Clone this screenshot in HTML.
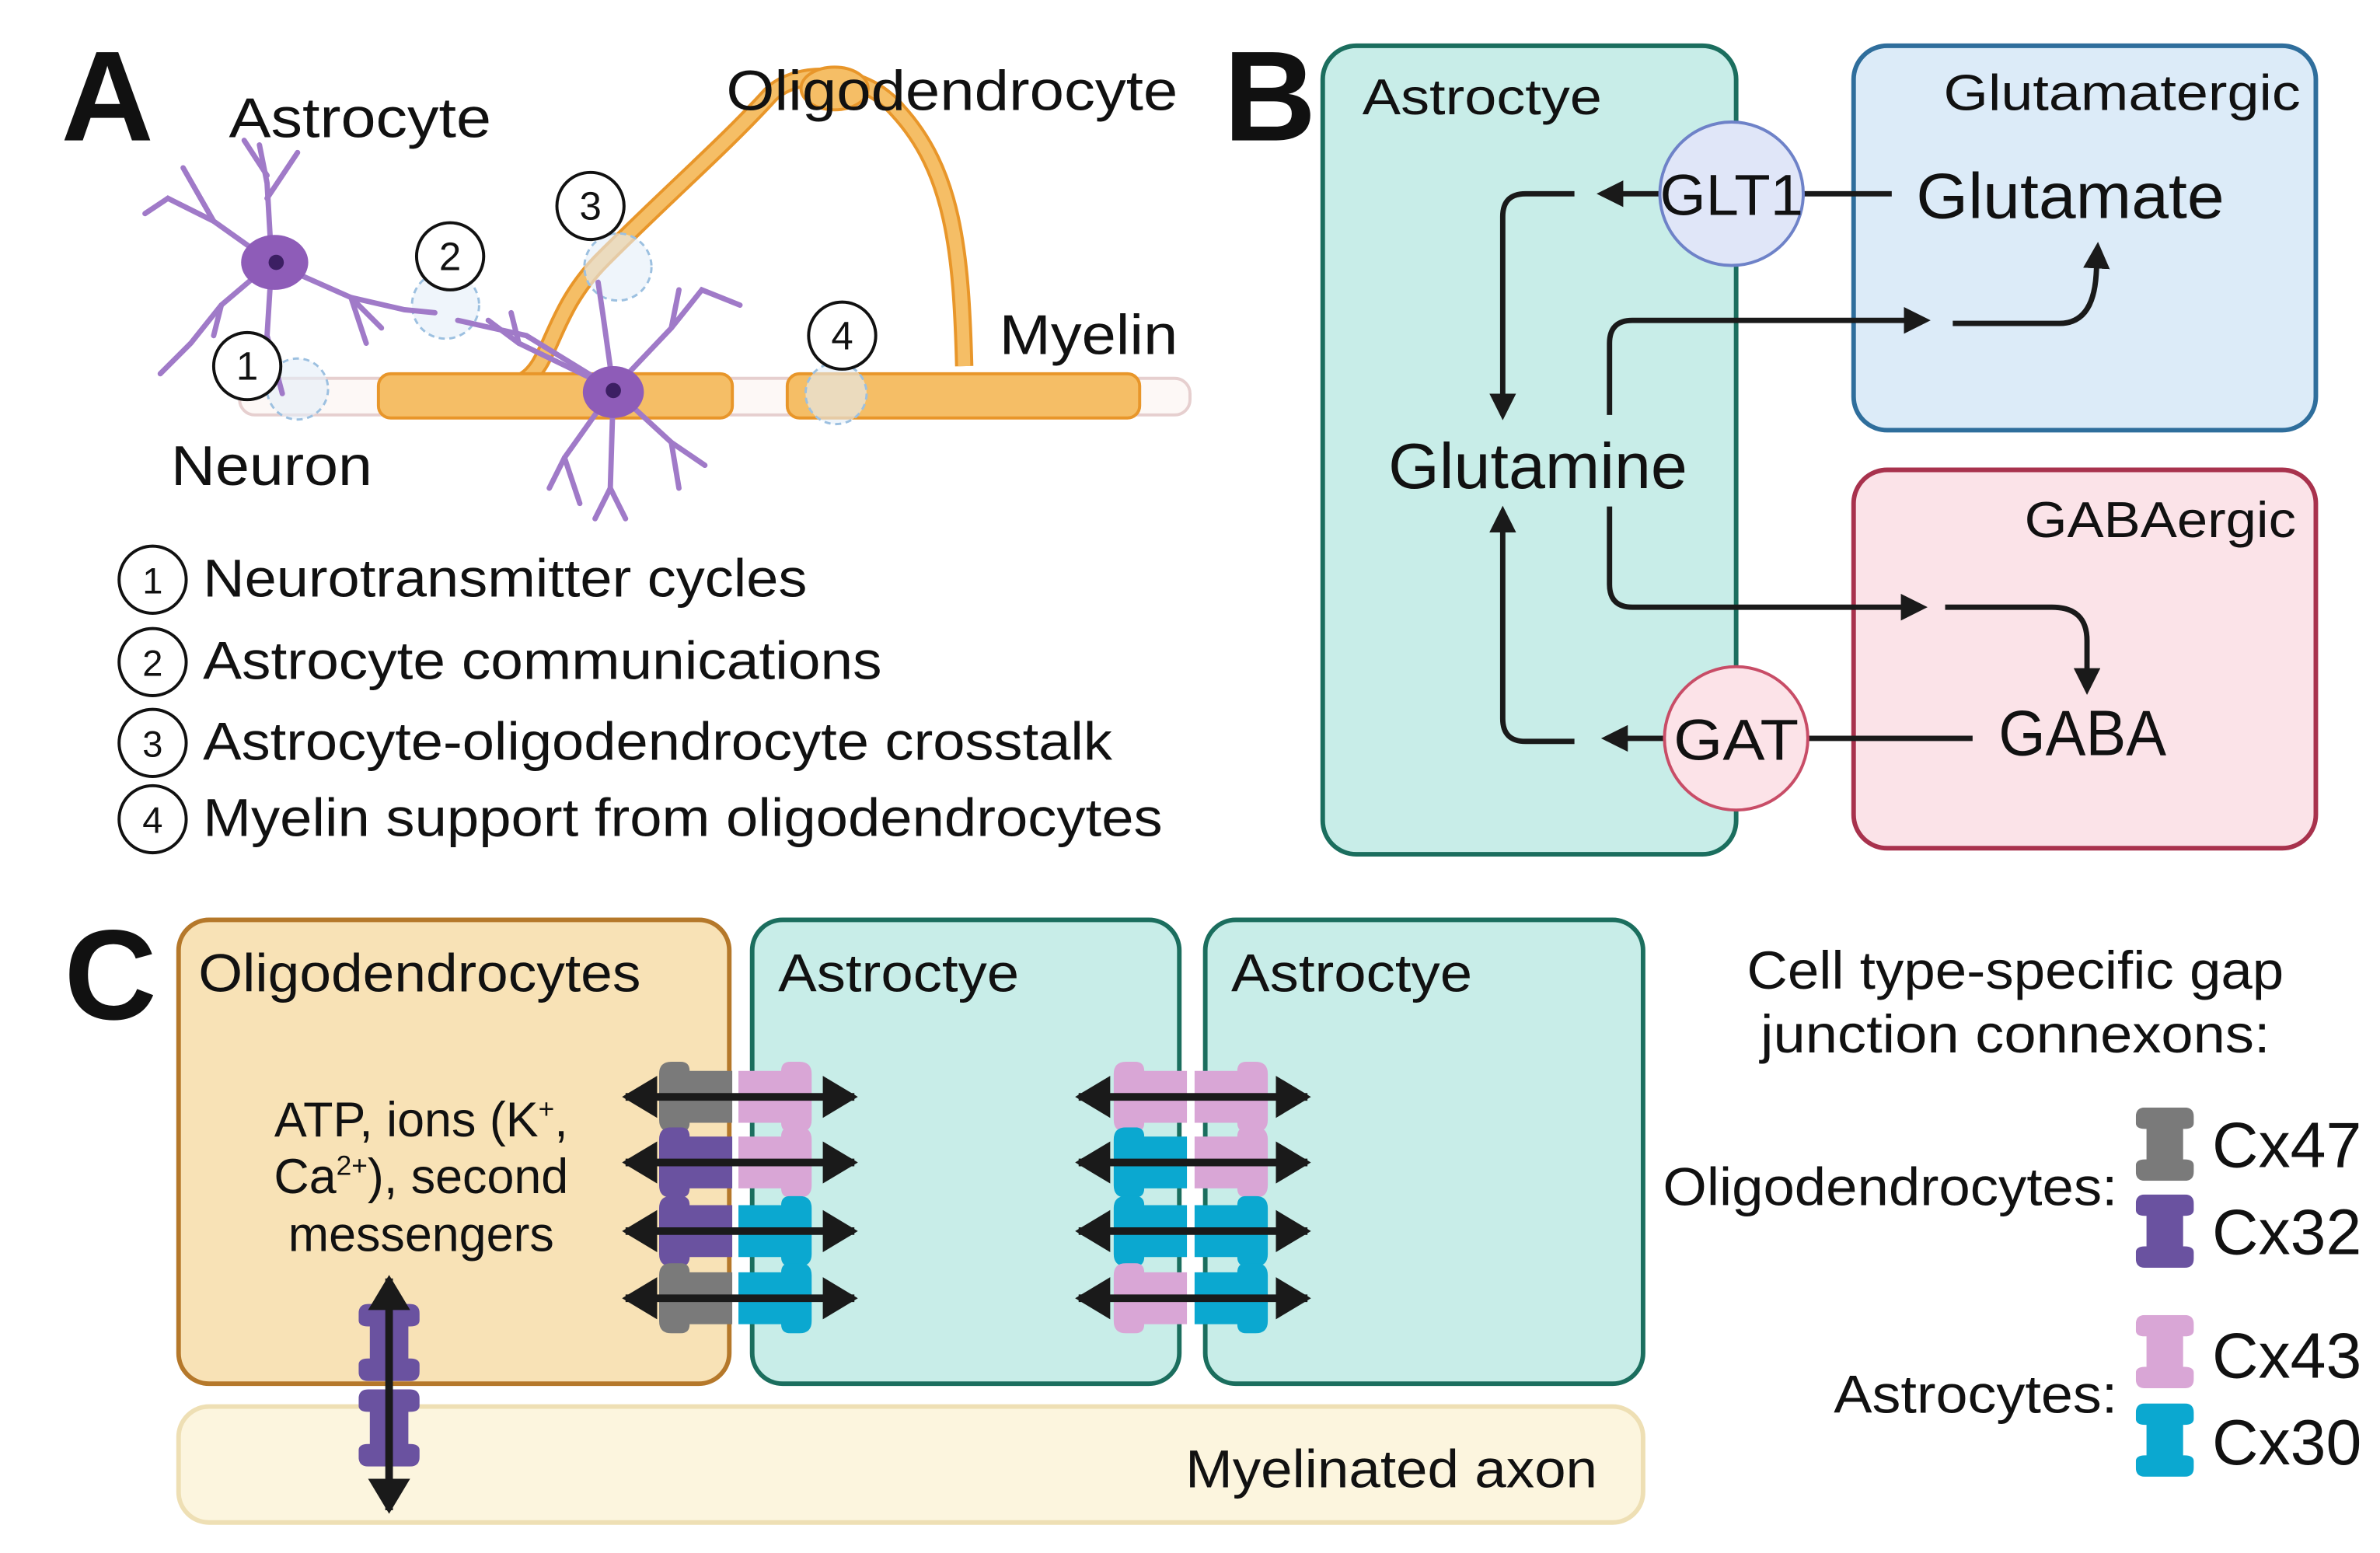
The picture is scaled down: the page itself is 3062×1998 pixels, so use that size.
<!DOCTYPE html>
<html><head><meta charset="utf-8"><style>
html,body{margin:0;padding:0;background:#fff}
svg{display:block}
text{font-family:"Liberation Sans",sans-serif;fill:#111}
</style></head><body>
<svg width="3062" height="1998" viewBox="0 0 1560 1018" xmlns="http://www.w3.org/2000/svg">
<defs>
<marker id="ah" viewBox="0 0 10 10" refX="8" refY="5" markerWidth="5" markerHeight="5" orient="auto-start-reverse"><path d="M0,0 L10,5 L0,10 z" fill="#1a1a1a"/></marker>
<marker id="ah2" viewBox="0 0 10 12" refX="9" refY="6" markerWidth="4.6" markerHeight="5.6" orient="auto-start-reverse"><path d="M0,0 L10,6 L0,12 z" fill="#1a1a1a"/></marker>
<symbol id="hl" viewBox="0 0 48 46"><path d="M0,8 Q0,0 8,0 L14,0 Q20,0 20,6 L48,6 L48,40 L20,40 Q20,46 14,46 L8,46 Q0,46 0,38 Z"/></symbol>
<symbol id="hr" viewBox="0 0 48 46"><path d="M48,8 Q48,0 40,0 L34,0 Q28,0 28,6 L0,6 L0,40 L28,40 Q28,46 34,46 L40,46 Q48,46 48,38 Z"/></symbol>
<symbol id="vi" viewBox="0 0 38 48"><path d="M0,6 Q0,0 6,0 L32,0 Q38,0 38,6 L38,10 Q38,14 32,14 L31,14 L31,34 L32,34 Q38,34 38,38 L38,42 Q38,48 32,48 L6,48 Q0,48 0,42 L0,38 Q0,34 6,34 L7,34 L7,14 L6,14 Q0,14 0,10 Z"/></symbol>
</defs>

<!-- Panel A -->
<text x="40" y="92" font-size="84" font-weight="bold">A</text>
<rect x="157" y="248" width="623" height="24" rx="10" fill="#fdf8f6" stroke="#e6cfcf" stroke-width="2"/>
<path d="M342,250 C362,240 360,205 395,170 C440,125 475,95 505,62 C522,45 565,45 588,72 C625,112 630,165 632,240" fill="none" stroke="#e8962a" stroke-width="12"/>
<path d="M342,250 C362,240 360,205 395,170 C440,125 475,95 505,62 C522,45 565,45 588,72 C625,112 630,165 632,240" fill="none" stroke="#f5be66" stroke-width="8"/>
<ellipse cx="547" cy="58" rx="22" ry="14" fill="#f5be66" stroke="#e8962a" stroke-width="2"/>
<rect x="248" y="245" width="232" height="29" rx="8" fill="#f5be66" stroke="#e8962a" stroke-width="2"/>
<rect x="516" y="245" width="231" height="29" rx="8" fill="#f5be66" stroke="#e8962a" stroke-width="2"/>
<g fill="#e4eef8" fill-opacity="0.6" stroke="#9cc0e0" stroke-dasharray="4,3" stroke-width="1.5">
<circle cx="195" cy="255" r="20"/><circle cx="292" cy="200" r="22"/><circle cx="405" cy="175" r="22"/><circle cx="548" cy="258" r="20"/>
</g>
<g stroke="#a07ac8" stroke-width="3.5" fill="none" stroke-linecap="round">
<path d="M178,172 L175,120 L170,95"/><path d="M175,130 L195,100"/><path d="M175,115 L160,92"/><path d="M178,172 L140,145 L110,130 L95,140"/><path d="M140,145 L120,110"/>
<path d="M178,172 L145,200 L125,225 L105,245"/><path d="M145,200 L140,220"/><path d="M178,172 L175,220 L185,258"/>
<path d="M178,172 L230,195 L265,203 L285,205"/><path d="M230,195 L240,225"/><path d="M230,195 L250,215"/>
<path d="M402,255 L395,205 L392,185"/><path d="M402,255 L440,215 L460,190 L485,200"/><path d="M440,215 L445,190"/>
<path d="M402,255 L340,225 L320,210"/><path d="M340,225 L335,205"/><path d="M402,255 L370,300 L360,320"/><path d="M370,300 L380,330"/>
<path d="M402,255 L440,290 L462,305"/><path d="M440,290 L445,320"/><path d="M402,255 L400,320 L390,340"/><path d="M400,320 L410,340"/>
<path d="M402,255 L345,220 L300,210"/>
</g>
<ellipse cx="180" cy="172" rx="22" ry="18" fill="#8e5cb8"/><circle cx="181" cy="172" r="5" fill="#3c1f63"/>
<ellipse cx="402" cy="257" rx="20" ry="17" fill="#8e5cb8"/><circle cx="402" cy="256" r="5" fill="#3c1f63"/>
<g fill="#fff" stroke="#111" stroke-width="2">
<circle cx="162" cy="240" r="22"/><circle cx="295" cy="168" r="22"/><circle cx="387" cy="135" r="22"/><circle cx="552" cy="220" r="22"/>
</g>
<g font-size="26" text-anchor="middle"><text x="162" y="249">1</text><text x="295" y="177">2</text><text x="387" y="144">3</text><text x="552" y="229">4</text></g>
<text x="150" y="90" font-size="37" textLength="172" lengthAdjust="spacingAndGlyphs">Astrocyte</text>
<text x="476" y="72" font-size="37" textLength="296" lengthAdjust="spacingAndGlyphs">Oligodendrocyte</text>
<text x="655" y="232" font-size="37" textLength="117" lengthAdjust="spacingAndGlyphs">Myelin</text>
<text x="112" y="318" font-size="37" textLength="132" lengthAdjust="spacingAndGlyphs">Neuron</text>
<g fill="none" stroke="#111" stroke-width="2"><circle cx="100" cy="380" r="22"/><circle cx="100" cy="434" r="22"/><circle cx="100" cy="487" r="22"/><circle cx="100" cy="537" r="22"/></g>
<g font-size="24" text-anchor="middle"><text x="100" y="389">1</text><text x="100" y="443">2</text><text x="100" y="496">3</text><text x="100" y="546">4</text></g>
<g font-size="35" lengthAdjust="spacingAndGlyphs">
<text x="133" y="391" textLength="396" lengthAdjust="spacingAndGlyphs">Neurotransmitter cycles</text>
<text x="133" y="445" textLength="445" lengthAdjust="spacingAndGlyphs">Astrocyte communications</text>
<text x="133" y="498" textLength="596" lengthAdjust="spacingAndGlyphs">Astrocyte-oligodendrocyte crosstalk</text>
<text x="133" y="548" textLength="629" lengthAdjust="spacingAndGlyphs">Myelin support from oligodendrocytes</text></g>

<!-- Panel B -->
<text x="802" y="92" font-size="84" font-weight="bold">B</text>
<rect x="867" y="30" width="271" height="530" rx="22" fill="#c8ede8" stroke="#1b6e5e" stroke-width="3"/>
<rect x="1215" y="30" width="303" height="252" rx="22" fill="#dcebf8" stroke="#2f6e9c" stroke-width="3"/>
<rect x="1215" y="308" width="303" height="248" rx="22" fill="#fbe3e8" stroke="#a8324d" stroke-width="3"/>
<text x="893" y="75" font-size="33" textLength="157" lengthAdjust="spacingAndGlyphs">Astroctye</text>
<text x="1274" y="72" font-size="33" textLength="234" lengthAdjust="spacingAndGlyphs">Glutamatergic</text>
<text x="1327" y="352" font-size="33" textLength="178" lengthAdjust="spacingAndGlyphs">GABAergic</text>
<g fill="none" stroke="#1a1a1a" stroke-width="3.5">
<line x1="1240" y1="127" x2="1050" y2="127" marker-end="url(#ah)"/>
<path d="M1032,127 L1000,127 Q985,127 985,142 L985,272" marker-end="url(#ah)"/>
<line x1="1293" y1="484" x2="1053" y2="484" marker-end="url(#ah)"/>
<path d="M1032,486 L1000,486 Q985,486 985,471 L985,335" marker-end="url(#ah)"/>
<path d="M1055,272 L1055,225 Q1055,210 1070,210 L1262,210" marker-end="url(#ah)"/>
<path d="M1280,212 L1350,212 Q1372,212 1374,180 L1375,162" marker-end="url(#ah)"/>
<path d="M1055,332 L1055,383 Q1055,398 1070,398 L1260,398" marker-end="url(#ah)"/>
<path d="M1275,398 L1345,398 Q1368,398 1368,420 L1368,452" marker-end="url(#ah)"/>
</g>
<circle cx="1135" cy="127" r="47" fill="#e0e6f8" stroke="#6e82c8" stroke-width="2"/>
<circle cx="1138" cy="484" r="47" fill="#fce3e8" stroke="#c84d67" stroke-width="2"/>
<text x="1088" y="141" font-size="38" textLength="94" lengthAdjust="spacingAndGlyphs">GLT1</text>
<text x="1097" y="498" font-size="38" textLength="82" lengthAdjust="spacingAndGlyphs">GAT</text>
<text x="1256" y="143" font-size="42" textLength="202" lengthAdjust="spacingAndGlyphs">Glutamate</text>
<text x="910" y="320" font-size="42" textLength="196" lengthAdjust="spacingAndGlyphs">Glutamine</text>
<text x="1310" y="495" font-size="42" textLength="110" lengthAdjust="spacingAndGlyphs">GABA</text>

<!-- Panel C -->
<text x="42" y="668" font-size="84" font-weight="bold">C</text>
<rect x="117" y="922" width="960" height="76" rx="20" fill="#fcf5de" stroke="#eedfb4" stroke-width="3"/>
<text x="777" y="975" font-size="35" textLength="270" lengthAdjust="spacingAndGlyphs">Myelinated axon</text>
<rect x="117" y="603" width="361" height="304" rx="20" fill="#f8e2b6" stroke="#b5782a" stroke-width="3"/>
<rect x="493" y="603" width="280" height="304" rx="20" fill="#c8ede8" stroke="#1b6e5e" stroke-width="3"/>
<rect x="790" y="603" width="287" height="304" rx="20" fill="#c8ede8" stroke="#1b6e5e" stroke-width="3"/>
<text x="130" y="650" font-size="35" textLength="290" lengthAdjust="spacingAndGlyphs">Oligodendrocytes</text>
<text x="510" y="650" font-size="35" textLength="158" lengthAdjust="spacingAndGlyphs">Astroctye</text>
<text x="807" y="650" font-size="35" textLength="158" lengthAdjust="spacingAndGlyphs">Astroctye</text>
<g font-size="32" text-anchor="middle">
<text x="276" y="745">ATP, ions (K<tspan font-size="18" dy="-12">+</tspan><tspan dy="12">,</tspan></text>
<text x="276" y="782">Ca<tspan font-size="18" dy="-12">2+</tspan><tspan dy="12">), second</tspan></text>
<text x="276" y="820">messengers</text>
</g>
<g>
<use href="#hl" x="432" y="696" width="48" height="46" fill="#7a7a7a"/><use href="#hr" x="483" y="696" width="50" height="46" fill="#d9a6d6"/>
<use href="#hl" x="432" y="739" width="48" height="46" fill="#6a52a0"/><use href="#hr" x="483" y="739" width="50" height="46" fill="#d9a6d6"/>
<use href="#hl" x="432" y="784" width="48" height="46" fill="#6a52a0"/><use href="#hr" x="483" y="784" width="50" height="46" fill="#0ba8d0"/>
<use href="#hl" x="432" y="828" width="48" height="46" fill="#7a7a7a"/><use href="#hr" x="483" y="828" width="50" height="46" fill="#0ba8d0"/>
<use href="#hl" x="729" y="696" width="50" height="46" fill="#d9a6d6"/><use href="#hr" x="782" y="696" width="50" height="46" fill="#d9a6d6"/>
<use href="#hl" x="729" y="739" width="50" height="46" fill="#0ba8d0"/><use href="#hr" x="782" y="739" width="50" height="46" fill="#d9a6d6"/>
<use href="#hl" x="729" y="784" width="50" height="46" fill="#0ba8d0"/><use href="#hr" x="782" y="784" width="50" height="46" fill="#0ba8d0"/>
<use href="#hl" x="729" y="828" width="50" height="46" fill="#d9a6d6"/><use href="#hr" x="782" y="828" width="50" height="46" fill="#0ba8d0"/>
</g>
<g stroke="#1a1a1a" stroke-width="5" fill="none">
<line x1="410" y1="719" x2="560" y2="719" marker-start="url(#ah2)" marker-end="url(#ah2)"/>
<line x1="410" y1="762" x2="560" y2="762" marker-start="url(#ah2)" marker-end="url(#ah2)"/>
<line x1="410" y1="807" x2="560" y2="807" marker-start="url(#ah2)" marker-end="url(#ah2)"/>
<line x1="410" y1="851" x2="560" y2="851" marker-start="url(#ah2)" marker-end="url(#ah2)"/>
<line x1="707" y1="719" x2="857" y2="719" marker-start="url(#ah2)" marker-end="url(#ah2)"/>
<line x1="707" y1="762" x2="857" y2="762" marker-start="url(#ah2)" marker-end="url(#ah2)"/>
<line x1="707" y1="807" x2="857" y2="807" marker-start="url(#ah2)" marker-end="url(#ah2)"/>
<line x1="707" y1="851" x2="857" y2="851" marker-start="url(#ah2)" marker-end="url(#ah2)"/>
</g>
<use href="#vi" x="235" y="852" width="40" height="56" fill="#6a52a0" preserveAspectRatio="none"/>
<use href="#vi" x="235" y="908" width="40" height="56" fill="#6a52a0" preserveAspectRatio="none"/>
<line x1="255" y1="838" x2="255" y2="990" stroke="#1a1a1a" stroke-width="5" marker-start="url(#ah2)" marker-end="url(#ah2)"/>
<text x="1145" y="648" font-size="35" textLength="352" lengthAdjust="spacingAndGlyphs">Cell type-specific gap</text>
<text x="1154" y="690" font-size="35" textLength="334" lengthAdjust="spacingAndGlyphs">junction connexons:</text>
<text x="1090" y="790" font-size="35" textLength="298" lengthAdjust="spacingAndGlyphs">Oligodendrocytes:</text>
<text x="1202" y="926" font-size="35" textLength="186" lengthAdjust="spacingAndGlyphs">Astrocytes:</text>
<use href="#vi" x="1400" y="726" width="38" height="48" fill="#7a7a7a"/>
<use href="#vi" x="1400" y="783" width="38" height="48" fill="#6a52a0"/>
<use href="#vi" x="1400" y="862" width="38" height="48" fill="#d9a6d6"/>
<use href="#vi" x="1400" y="920" width="38" height="48" fill="#0ba8d0"/>
<g font-size="42"><text x="1450" y="765" textLength="98" lengthAdjust="spacingAndGlyphs">Cx47</text><text x="1450" y="822" textLength="98" lengthAdjust="spacingAndGlyphs">Cx32</text><text x="1450" y="903" textLength="98" lengthAdjust="spacingAndGlyphs">Cx43</text><text x="1450" y="960" textLength="98" lengthAdjust="spacingAndGlyphs">Cx30</text></g>
</svg>
</body></html>
